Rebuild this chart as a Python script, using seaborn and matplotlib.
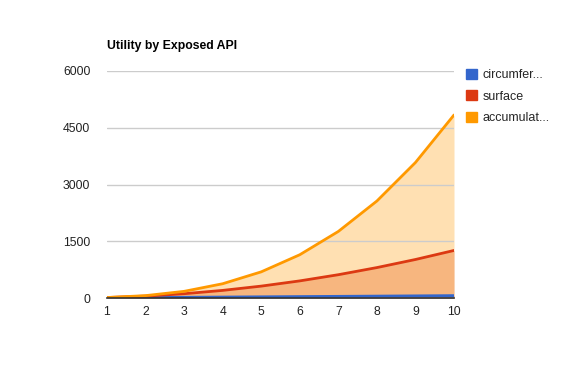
import matplotlib
matplotlib.use("Agg")
import matplotlib.pyplot as plt
from matplotlib.patches import Patch
import seaborn as sns
import pandas as pd

radius = [1, 2, 3, 4, 5, 6, 7, 8, 9, 10]
circumference = [6.28, 12.57, 18.85, 25.13, 31.42, 37.70, 43.98, 50.27, 56.55, 62.83]
surface = [12.57, 50.27, 113.10, 201.06, 314.16, 452.39, 615.75, 804.25, 1017.88, 1256.64]
accumulated = [12.57, 62.83, 175.93, 376.99, 691.15, 1143.54, 1759.29, 2563.54, 3581.42, 4838.05]
series_names = ["circumference", "surface", "accumulated"]
legend_labels = ["circumfer...", "surface", "accumulat..."]
colors = ["#3366CC", "#DC3912", "#FF9900"]
yticks = [0, 1500, 3000, 4500, 6000]

df = pd.DataFrame({"r": radius, "circumference": circumference,
                   "surface": surface, "accumulated": accumulated})
long = df.melt(id_vars="r", var_name="series", value_name="value")

sns.set_style("white")
plt.rcParams["font.family"] = ["Liberation Sans", "DejaVu Sans"]

fig = plt.figure(figsize=(5.61, 3.69), dpi=100)
ax = fig.add_axes([0.1907, 0.1924, 0.8093 - 0.1907, 0.8076 - 0.1924])

for name, c in zip(series_names, colors):
    ax.fill_between(df["r"], 0, df[name], color=c, alpha=0.3, linewidth=0, zorder=1)

sns.lineplot(data=long, x="r", y="value", hue="series", palette=colors,
             hue_order=series_names, linewidth=2, ax=ax, legend=False, zorder=3)

ax.set_xlim(1, 10)
ax.set_ylim(0, 6000)
ax.set_xticks(radius)
ax.set_xticklabels([str(v) for v in radius])
ax.set_yticks(yticks)
ax.set_yticklabels([str(v) for v in yticks])
ax.yaxis.grid(True, color="#CCCCCC", linewidth=1, zorder=2)
ax.set_axisbelow(False)
for s in ["top", "right", "left"]:
    ax.spines[s].set_visible(False)
ax.spines["bottom"].set_color("#333333")
ax.spines["bottom"].set_linewidth(1.2)
ax.spines["bottom"].set_zorder(4)
ax.tick_params(axis="both", length=0, labelsize=8.8, colors="#222222")
ax.tick_params(axis="y", pad=12)
ax.tick_params(axis="x", pad=6)
ax.set_xlabel("")
ax.set_ylabel("")

fig.text(107 / 561, 1 - 46 / 369, "Utility by Exposed API", fontsize=8.8,
         fontweight="bold", ha="left", va="center", color="#000000")

handles = [Patch(facecolor=c, edgecolor=c) for c in colors]
fig.legend(handles, legend_labels, loc="upper left",
           bbox_to_anchor=(466 / 561, 1 - 69 / 369), frameon=False,
           fontsize=9.0, handlelength=0.85, handleheight=0.85,
           handletextpad=0.5, labelspacing=0.72, borderaxespad=0,
           borderpad=0)

fig.savefig("out.png", dpi=100)
